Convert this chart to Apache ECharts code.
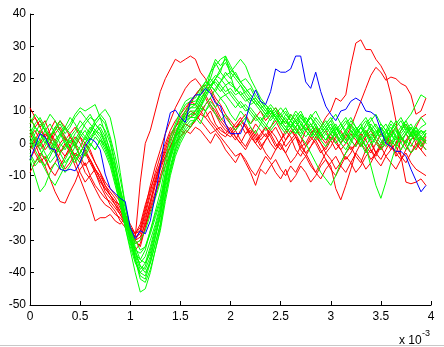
<!DOCTYPE html>
<html>
<head>
<meta charset="utf-8">
<script src="https://cdn.jsdelivr.net/npm/echarts@6/dist/echarts.min.js"></script>
<style>
  html, body { margin: 0; padding: 0; background: #fff; }
  #chart { width: 444px; height: 347px; }
</style>
</head>
<body>
<div id="chart"></div>
<script>
// time samples, in ms (axis shows x 10^-3 s)
const xs = [0, 0.05, 0.1, 0.15, 0.2, 0.25, 0.3, 0.35, 0.4, 0.45, 0.5, 0.55, 0.6, 0.65, 0.7, 0.75, 0.8, 0.85, 0.9, 0.95,
  1, 1.05, 1.1, 1.15, 1.2, 1.25, 1.3, 1.35, 1.4, 1.45, 1.5, 1.55, 1.6, 1.65, 1.7, 1.75, 1.8, 1.85, 1.9, 1.95,
  2, 2.05, 2.1, 2.15, 2.2, 2.25, 2.3, 2.35, 2.4, 2.45, 2.5, 2.55, 2.6, 2.65, 2.7, 2.75, 2.8, 2.85, 2.9, 2.95,
  3, 3.05, 3.1, 3.15, 3.2, 3.25, 3.3, 3.35, 3.4, 3.45, 3.5, 3.55, 3.6, 3.65, 3.7, 3.75, 3.8, 3.85, 3.9, 3.95];

const xTicks = ['0', '0.5', '1', '1.5', '2', '2.5', '3', '3.5', '4'];

const red1 = [2, 4, 1, -2, 0, 3, 5, 2, -1, -4, -3, 0, -2, -6, -9, -12, -14, -16, -18, -22,
  -26, -29, -12, 0, 4, 10, 16, 20, 23, 26, 25, 26, 27, 26, 22, 20, 17, 14, 12, 9,
  7, 5, 6, 3, 4, 1, 2, 5, 3, 0, -2, 1, 4, 2, -1, 0, 3, 5, 2, 4,
  1, -2, 0, 3, 1, -1, 2, 4, 1, -3, -1, 2, 0, -4, -2, 1, 3, 0, -2, 1];
const red2 = [11, 8, 5, 7, 3, 0, -3, -1, 2, 0, -4, -7, -5, -9, -13, -16, -19, -21, -24, -26,
  -28, -30, -27, -21, -15, -9, -4, 0, 4, 7, 9, 11, 13, 12, 10, 8, 6, 4, 5, 3,
  2, 4, 1, -1, 2, 4, 1, 3, 0, -2, 1, 3, 5, 2, 0, 4, 6, 3, 5, 8,
  10, 14, 13, 15, 24, 31, 32, 29, 29, 26, 24, 21, 15, 7, -4, -12, -12.5, -12, -11, -13];
const red3 = [-5, -2, 0, 3, 1, -2, -5, -8, -6, -3, -5, -9, -11, -14, -17, -19, -20, -22, -23, -25,
  -27, -31, -30, -24, -18, -12, -7, -2, 2, 5, 7, 9, 12, 15, 17, 14, 11, 9, 6, 4,
  3, 1, 4, 6, 3, 0, -2, 1, 3, 5, 2, -1, 1, 3, 0, -3, -1, 2, 0, -2,
  1, 3, 0, 2, 5, 9, 13, 17, 21, 23.5, 22, 19.5, 20.5, 20, 18.5, 17.7, 15, 9, 10, 14];
const red4 = [0, -3, -6, -4, -8, -10, -7, -4, -2, -5, -9, -12, -10, -8, -11, -15, -17, -19, -21, -24,
  -26, -28, -25, -19, -14, -10, -6, -3, 1, 4, 6, 8, 10, 9, 7, 5, 3, 4, 2, 0,
  -2, -4, -3, -6, -9, -13, -8, -9.5, -7, -5, -8, -10, -7, -9, -6, -4, -7, -9, -6, -3,
  -5, -8, -6, -3, -1, -4, -6, -2, 0, -3, -5, -2, 1, -1, -4, -6, -3, 0, -2, -4];
const red5 = [-9, -6, -3, -5, -8, -6, -3, 0, -3, -7, -11, -15, -19, -24, -23, -23, -22, -24, -25, -23,
  -26, -28, -27, -22, -16, -11, -7, -4, -1, 2, 4, 3, 5, 7, 9, 8, 10, 6, 4, 3,
  5, 2, 0, -2, 1, 3, 0, -3, -5, -2, 0, -3, -6, -4, -1, -3, -6, -9, -11, -8,
  -6, -4, -7, -9, -6, -3, -5, -8, -6, -3, -1, -4, -2, 0, 2, -1, -3, -1, 2, 0];
const red6 = [3, 0, -4, -7, -11, -15, -18, -18.5, -15, -12, -8, -6, -10, -13, -15, -17, -18, -20, -22, -24,
  -27, -30, -32, -26, -19, -13, -8, -4, -1, 2, 4, 6, 5, 7, 9, 12, 14, 11, 8, 6,
  4, 6, 8, 5, 3, 6, 4, 2, 5, 7, 4, 1, 3, 5, 2, -1, 1, 3, 0, -3,
  -1, 2, 4, 1, -2, 0, 3, 1, -2, -4, -1, 2, 0, -3, -5, -2, 1, 3, 0, -2];
const red7 = [6, 8, 5, 2, 4, 7, 4, 1, 3, 5, 2, -2, -5, -8, -11, -14, -16, -19, -22, -25,
  -28, -33, -31, -26, -21, -16, -11, -7, -3, 0, 2, 4, 3, 5, 4, 2, 0, 3, 1, -2,
  -4, -6, -3, -5, -8, -10, -7, -4, -6, -9, -11, -8, -12, -10, -7, -9, -12, -10, -7, -5,
  -8, -10, -7, -4, -6, -9, -7, -4, -2, -5, -7, -4, -6, -8, -5, -3, -6, -8, -9, -10];
const red8 = [-2, 1, 4, 2, -1, -3, 0, 2, -1, -4, -6, -3, -5, -8, -10, -13, -15, -17, -20, -23,
  -27, -29, -28, -23, -18, -12, -6, -1, 3, 5, 8, 10, 13, 15, 17, 18, 16, 13, 10, 8,
  6, 4, 7, 5, 2, 0, 3, 5, 2, -1, 1, 4, 2, -2, -4, -1, 2, 0, -3, -1,
  2, 0, -2, -5, -3, 0, 2, -1, -3, 0, 3, 1, -2, 0, 4, 6, 3, 5, 8, 9];
const red9 = [4, 1, -2, 0, 3, 1, -2, -4, -1, 2, 0, -3, -6, -9, -12, -14, -16, -18, -21, -24,
  -27, -30, -29, -25, -20, -15, -10, -5, -1, 3, 6, 9, 8, 10, 12, 10, 7, 5, 3, 2,
  4, 2, 0, 3, 5, 2, -1, 1, 4, 2, -1, -3, 0, 2, -2, -4, -1, 1, -2, -5,
  -7, -14, -17.5, -13, -8, -3, 0, -2, -5, -3, 0, 2, -1, -3, 1, 3, 0, -2, 1, 3];
const red10 = [8, 5, 7, 4, 1, 4, 7, 5, 2, -1, 2, 0, -3, -6, -9, -13, -16, -18, -19, -22,
  -25, -28, -26, -20, -13, -7, -2, 3, 7, 11, 14, 17, 19, 20, 18, 15, 12, 10, 7, 5,
  3, 5, 7, 9, 6, 8, 10, 7, 9, 11, 8, 6, 9, 7, 4, 6, 3, 5, 2, 0,
  3, 1, -2, 0, 3, 1, -1, 2, 4, 1, -2, 0, 3, 5, 2, 0, 3, 1, -1, 2];

const green1 = [2, 5, 3, 0, 2, 5, 7, 4, 6, 9, 11, 10, 11, 12, 8, 3, -3, -10, -18, -26,
  -33, -40, -46, -45, -40, -33, -26, -16, -8, -2, 3, 6, 8, 9, 11, 10, 12, 9, 7, 9,
  6, 4, 6, 8, 5, 3, 6, 4, 5, 8, 5, 3, 5, 7, 4, 2, 4, 6, 3, 1,
  3, 5, 2, 0, 2, 4, 6, 3, 1, 3, 5, 2, 0, 3, 5, 7, 4, 2, 4, 3];
const green2 = [-5, -10, -15, -13, -9, -6, -8, -5, -2, 0, -2, -4, -1, 2, 0, -3, -7, -13, -19, -25,
  -31, -36, -40, -41, -36, -29, -22, -12, -4, 2, 6, 9, 11, 12, 16, 19, 22, 24, 26, 27,
  24, 21, 19, 17, 15, 13, 11, 9, 10, 8, 6, 7, 5, 3, 5, 8, 6, 4, 2, 4,
  6, 3, 1, 4, 6, 3, 5, 7, 4, 2, 0, 3, 5, 2, 4, 6, 3, 1, 2, 4];
const green3 = [0, 3, 6, 4, 1, -1, 2, 5, 3, 0, 3, 6, 8, 7, 9, 10.5, 8, 1, -9, -19,
  -27, -33, -38, -40, -37, -31, -25, -16, -8, -2, 2, 5, 7, 7, 10, 12, 14, 17, 19, 21,
  22, 24, 26, 24, 20, 17, 14, 12, 10, 8, 9, 7, 5, 8, 10, 7, 4, 2, 5, 3,
  1, 4, 6, 8, 5, 3, 1, 3, 6, 4, 2, 4, 7, 5, 2, 0, 3, 5, 2, 1];
const green4 = [4, 1, -2, -5, -3, 0, 3, 1, -2, -4, -1, 2, 5, 3, 1, -2, -6, -12, -19, -26,
  -32, -37, -40, -38, -33, -27, -21, -12, -5, 1, 5, 8, 10, 10, 13, 16, 18, 19, 17, 15,
  16, 14, 12, 10, 11, 9, 7, 9, 11, 8, 6, 8, 5, 3, 6, 4, 2, 5, 3, 1,
  3, 5, 2, 0, 3, 5, 2, -1, -7, -13, -17, -12, -6, -1, 3, 5, 2, 4, 1, 3];
const green5 = [-3, -6, -4, -1, 2, 0, -3, -1, 2, 4, 7, 5, 3, 6, 4, 0, -4, -10, -17, -24,
  -30, -35, -37, -35, -30, -25, -19, -10, -3, 3, 7, 10, 12, 12, 15, 17, 20, 18, 16, 18,
  15, 13, 11, 12, 10, 8, 6, 9, 11, 8, 6, 4, 7, 5, 3, 6, 8, 5, 3, 1,
  4, 6, 3, 1, 4, 2, 0, 3, 5, 2, 4, 6, 3, 1, 4, 7, 9, 12, 15, 14];
const green6 = [6, 9, 7, 4, 2, 5, 3, 0, -2, 1, 4, 2, 0, -2, 1, -1, -5, -11, -18, -24,
  -29, -33, -34, -32, -27, -22, -17, -9, -2, 3, 6, 8, 9, 9, 12, 15, 17, 20, 22, 20,
  18, 17, 15, 13, 14, 12, 10, 8, 10, 8, 6, 9, 7, 4, 2, 0, -3, -6, -9, -11,
  -13, -10, -6, -3, 0, 3, 5, 2, 4, 6, 3, 1, 4, 2, 0, 3, 5, 2, 0, 3];
const green7 = [1, -2, -5, -7, -4, -1, -3, -6, -4, -1, 2, 4, 1, 3, 5, 2, -2, -8, -15, -22,
  -28, -34, -38, -39, -35, -29, -23, -14, -7, -1, 4, 7, 8, 8, 11, 14, 17, 20, 23, 25,
  22, 20, 18, 16, 17, 14, 12, 10, 8, 10, 7, 5, 7, 9, 6, 4, 6, 3, 1, 3,
  5, 2, 0, 3, 6, 4, 1, -1, 2, 4, 1, -1, 2, 4, 1, 3, 5, 2, -1, 1];
const green8 = [3, 6, 8, 5, 2, 4, 6, 3, 5, 8, 10, 8, 6, 4, 2, -1, -5, -11, -17, -23,
  -29, -34, -36, -33, -27, -21, -15, -7, 0, 5, 9, 12, 13, 13, 15, 17, 19, 21, 20, 18,
  19, 17, 15, 16, 14, 12, 13, 11, 9, 7, 9, 11, 8, 6, 9, 7, 5, 8, 6, 4,
  6, 3, 5, 7, 4, 2, 5, 3, 0, 2, 5, 3, 6, 4, 2, 4, 6, 3, 5, 6];
const green9 = [-4, -7, -5, -8, -11, -13, -10, -7, -4, -6, -3, 0, 2, 4, 3, 0, -4, -10, -16, -23,
  -30, -36, -42, -43, -39, -33, -27, -18, -10, -4, 0, 3, 5, 8, 6, 10, 13, 11, 14, 12,
  9, 7, 10, 8, 6, 9, 7, 5, 8, 9, 7, 5, 3, 5, 7, 4, 2, 4, 1, -1,
  1, 3, 0, -2, 1, 3, 0, -3, -1, 2, 4, 1, -1, 2, 0, -2, 1, 3, 0, -2];
const green10 = [8, 5, 3, 6, 9, 7, 4, 2, 0, 3, 5, 7, 9, 6, 4, 1, -4, -10, -16, -22,
  -27, -31, -30, -27, -22, -17, -12, -5, 2, 6, 10, 13, 14, 14, 17, 19, 18, 16, 14, 15,
  13, 11, 13, 11, 9, 7, 8, 6, 4, 6, 8, 10, 7, 5, 8, 6, 9, 7, 5, 7,
  4, 2, 4, 6, 8, 5, 3, 6, 8, 5, 3, 1, 4, 6, 8, 5, 3, 6, 8, 6];
const green11 = [-1, 2, 0, -3, -6, -4, -1, 1, -2, -5, -3, 0, 3, 6, 8, 6, 1, -6, -14, -22,
  -29, -36, -41, -42, -37, -31, -25, -16, -9, -3, 1, 4, 6, 7, 11, 15, 18, 16, 19, 22,
  20, 22, 19, 17, 15, 13, 11, 12, 10, 8, 6, 4, 6, 4, 2, 5, 3, 1, 3, 5,
  3, 0, 2, 4, 1, -1, 2, 4, 2, 0, -2, 1, 3, 0, -2, 1, -1, 2, 4, 2];
const green12 = [2, -1, 1, 4, 6, 3, 0, -2, 1, -1, -4, -2, 1, 4, 6, 4, 0, -7, -15, -23,
  -30, -35, -39, -37, -32, -26, -20, -11, -4, 2, 6, 9, 11, 11, 14, 16, 18, 20, 18, 16,
  17, 15, 16, 14, 12, 13, 11, 9, 7, 9, 11, 9, 7, 10, 8, 6, 8, 10, 7, 5,
  7, 9, 6, 4, 7, 5, 3, 5, 7, 9, 6, 4, 2, 5, 7, 4, 2, 5, 3, 4];
const green13 = [5, 2, -1, 2, 0, -3, -6, -9, -7, -4, -6, -3, 0, -2, 1, 0, -3, -8, -14, -20,
  -26, -30, -33, -32, -28, -23, -18, -10, -3, 2, 7, 10, 12, 12, 15, 18, 20, 25, 22, 27,
  21, 16, 18, 15, 13, 14, 12, 10, 12, 10, 8, 6, 9, 7, 4, 6, 8, 6, 3, 5,
  7, 4, 6, 3, 1, 4, 6, 8, 5, 3, 6, 4, 1, -1, 2, 0, -3, -1, 2, 0];
const green14 = [-2, 0, 3, 1, -2, 1, 3, 5, 8, 6, 3, 1, 4, 7, 9, 7, 2, -4, -11, -19,
  -26, -32, -36, -37, -34, -28, -22, -13, -5, 0, 4, 7, 9, 10, 13, 16, 22, 26, 24, 26,
  23, 21, 19, 20, 18, 15, 13, 11, 9, 11, 9, 7, 5, 7, 9, 6, 4, 2, 4, 6,
  8, 5, 3, 1, 4, 2, -1, 1, 3, 1, -1, 2, 4, 7, 5, 3, 1, 4, 2, 0];

const blue1 = [-5, -1, 3, 2, -1.5, -2, -8, -8.5, -8, -8.5, -6, -1, 1.5, 0.5, -2, -9.5, -14, -15.5, -17, -18,
  -26, -29.5, -27, -28, -24, -16, -7, 3, 9.5, 10.3, 8, 6.5, 13, 15, 15, 17, 15.5, 12.4, 11.5, 6,
  3, 3, 3, 7, 13, 16.5, 13, 12, 16, 23, 22, 22, 23, 27, 27, 19, 17, 22, 16, 11.5,
  9, 7, 10, 10.5, 13, 14, 13, 10, 9.7, 8.5, 4, 0, -1, -2.5, -2.5, -4, -8, -11.5, -15, -13];

const redLines = [red1, red2, red3, red4, red5, red6, red7, red8, red9, red10];
const greenLines = [green1, green2, green3, green4, green5, green6, green7, green8,
  green9, green10, green11, green12, green13, green14];
const blueLines = [blue1];

const mkLine = (arr, color) => ({
  type: 'line',
  data: xs.map((x, i) => [x, arr[i]]),
  showSymbol: false,
  symbol: 'none',
  silent: true,
  lineStyle: { color: color, width: 1 },
  emphasis: { disabled: true },
});

const chart = echarts.init(document.getElementById('chart'));
chart.setOption({
  animation: false,
  backgroundColor: '#fff',
  grid: { left: 30, right: 13, top: 14, bottom: 42 },
  xAxis: {
    type: 'value',
    min: 0,
    max: 4,
    interval: 0.5,
    axisLine: { onZero: false, lineStyle: { color: '#000', width: 1 } },
    axisTick: { inside: true, length: 4, lineStyle: { color: '#000' } },
    splitLine: { show: false },
    axisLabel: {
      color: '#000',
      fontFamily: 'Liberation Sans, Arial, sans-serif',
      fontSize: 12,
      margin: 6,
      formatter: (v) => xTicks[Math.round(v * 2)],
    },
  },
  yAxis: {
    type: 'value',
    min: -50,
    max: 40,
    interval: 10,
    axisLine: { show: true, onZero: false, lineStyle: { color: '#000', width: 1 } },
    axisTick: { show: true, inside: true, length: 4, lineStyle: { color: '#000' } },
    splitLine: { show: false },
    axisLabel: {
      color: '#000',
      fontFamily: 'Liberation Sans, Arial, sans-serif',
      fontSize: 12,
      margin: 4,
    },
  },
  graphic: [
    {
      type: 'text',
      left: 399,
      top: 335,
      style: { text: 'x 10', fill: '#000', font: '12px Liberation Sans, Arial, sans-serif' },
    },
    {
      type: 'text',
      left: 422,
      top: 329,
      style: { text: '-3', fill: '#000', font: '9px Liberation Sans, Arial, sans-serif' },
    },
    {
      type: 'line',
      shape: { x1: 0, y1: 345.5, x2: 444, y2: 345.5 },
      style: { stroke: '#c8c8c8', lineWidth: 1 },
    },
  ],
  series: [
    ...redLines.map((a) => mkLine(a, '#ff0000')),
    ...greenLines.map((a) => mkLine(a, '#00ff00')),
    ...blueLines.map((a) => mkLine(a, '#0000ff')),
  ],
});
</script>
</body>
</html>
